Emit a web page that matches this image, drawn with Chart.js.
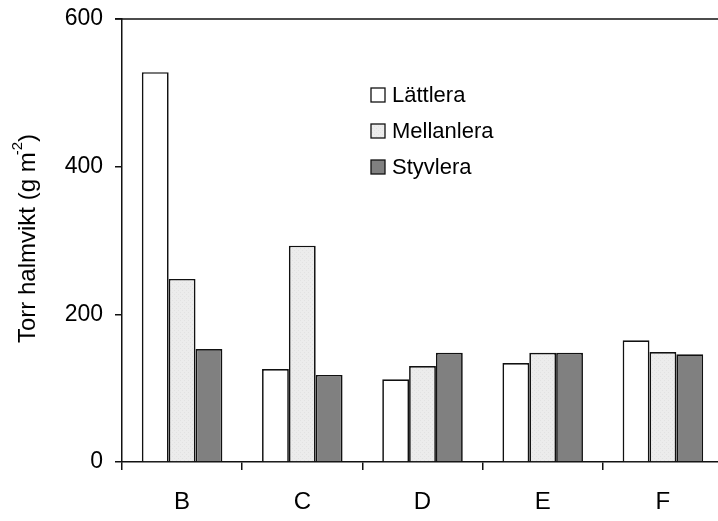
<!DOCTYPE html>
<html>
<head>
<meta charset="utf-8">
<script src="https://cdn.jsdelivr.net/npm/chart.js@4/dist/chart.umd.min.js"></script>
<style>
  html, body { margin: 0; padding: 0; background: #fff; overflow: hidden; }
  #wrap { width: 718px; height: 521px; overflow: hidden; position: relative; }
  #box { width: 730px; height: 521px; position: absolute; left: 0; top: 0; }
</style>
</head>
<body>
<div id="wrap"><div id="box"><canvas id="chart"></canvas></div></div>
<script>
// Dry straw weight per soil type
const categories = ['B', 'C', 'D', 'E', 'F'];
const lattlera = [528, 126, 112, 134, 165];
const mellanlera = [248, 293, 130, 148, 149];
const styvlera = [153, 118, 148, 148, 146];
const seriesNames = ['Lättlera', 'Mellanlera', 'Styvlera'];
const yTicks = [0, 200, 400, 600];

const FONT = 'Arial, "Liberation Sans", sans-serif';
const INK = '#111';

// light grey with a faint dotted texture
function dotPattern() {
    const c = document.createElement('canvas');
    c.width = 4; c.height = 4;
    const g = c.getContext('2d');
    g.fillStyle = '#ececec';
    g.fillRect(0, 0, 4, 4);
    g.fillStyle = '#e2e2e2';
    g.fillRect(0, 0, 1, 1);
    g.fillRect(2, 2, 1, 1);
    return g.createPattern(c, 'repeat');
}

const fills = ['#ffffff', dotPattern(), '#808080'];

const extras = {
    id: 'extras',
    afterDraw(chart) {
        const { ctx, chartArea } = chart;
        ctx.save();

        // top frame line
        ctx.strokeStyle = INK;
        ctx.lineWidth = 1.5;
        ctx.beginPath();
        ctx.moveTo(chartArea.left - 7, chartArea.top);
        ctx.lineTo(chartArea.right, chartArea.top);
        ctx.stroke();

        // legend
        ctx.font = '22px ' + FONT;
        ctx.textBaseline = 'middle';
        ctx.textAlign = 'left';
        seriesNames.forEach((name, i) => {
            const y = 95 + i * 36;
            ctx.fillStyle = fills[i];
            ctx.fillRect(371, y - 7, 14, 14);
            ctx.strokeStyle = INK;
            ctx.lineWidth = 1.3;
            ctx.strokeRect(371, y - 7, 14, 14);
            ctx.fillStyle = '#000';
            ctx.fillText(name, 392, y + 1);
        });

        // y axis title with superscript
        ctx.translate(27, 237);
        ctx.rotate(-Math.PI / 2);
        const main = 'Torr halmvikt (g m';
        const sup = '-2';
        const tail = ')';
        ctx.font = '24px ' + FONT;
        const wMain = ctx.measureText(main).width;
        const wTail = ctx.measureText(tail).width;
        ctx.font = '15px ' + FONT;
        const wSup = ctx.measureText(sup).width;
        let x = -(wMain + wSup + wTail) / 2;
        ctx.fillStyle = '#000';
        ctx.textBaseline = 'alphabetic';
        ctx.font = '24px ' + FONT;
        ctx.fillText(main, x, 8);
        x += wMain;
        ctx.font = '15px ' + FONT;
        ctx.fillText(sup, x - 3, -5);
        x += wSup - 3;
        ctx.font = '24px ' + FONT;
        ctx.fillText(tail, x, 8);
        ctx.restore();
    }
};

new Chart(document.getElementById('chart'), {
    type: 'bar',
    data: {
        labels: categories,
        datasets: [lattlera, mellanlera, styvlera].map((d, i) => ({
            label: seriesNames[i],
            data: d,
            backgroundColor: fills[i],
            borderColor: INK,
            borderWidth: 1.7,
            categoryPercentage: 0.67,
            barPercentage: 1.0
        }))
    },
    options: {
        responsive: true,
        maintainAspectRatio: false,
        animation: false,
        layout: { padding: { top: 19, right: 7, left: 0, bottom: 0 } },
        plugins: { legend: { display: false }, tooltip: { enabled: false } },
        scales: {
            x: {
                offset: true,
                grid: { offset: true, drawOnChartArea: false, drawTicks: true, tickLength: 8, color: INK, lineWidth: 1.5 },
                border: { display: true, color: INK, width: 1.5 },
                ticks: { color: '#000', font: { family: FONT, size: 24 }, padding: 18 },
                afterFit(scale) { scale.height = 59; }
            },
            y: {
                min: 0,
                max: 600,
                afterBuildTicks(scale) { scale.ticks = yTicks.map(v => ({ value: v })); },
                grid: { drawOnChartArea: false, drawTicks: true, tickLength: 7, color: INK, lineWidth: 1.5 },
                border: { display: true, color: INK, width: 1.5 },
                ticks: { color: '#000', font: { family: FONT, size: 23 }, padding: 12 },
                afterFit(scale) {
                    scale.width = 122;
                    scale.paddingTop = 0;
                    scale.paddingBottom = 0;
                }
            }
        }
    },
    plugins: [extras]
});
</script>
</body>
</html>
